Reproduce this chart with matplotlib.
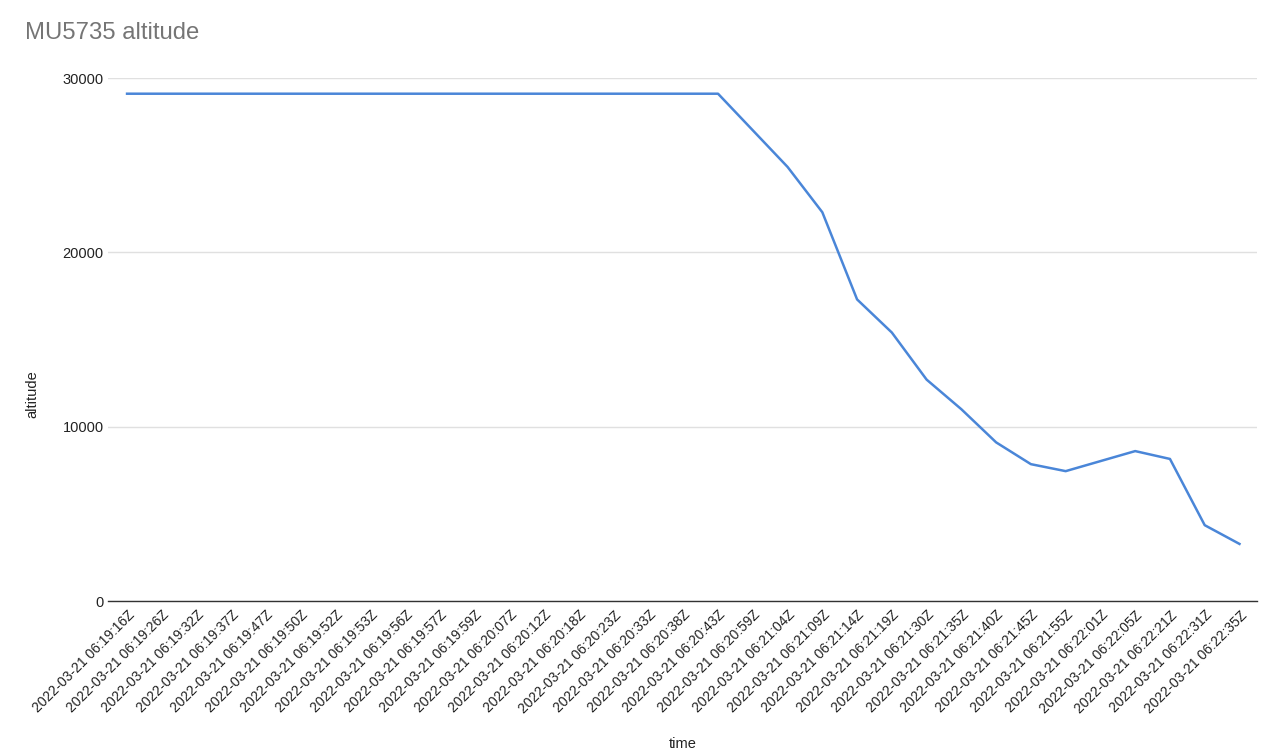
import matplotlib
matplotlib.use("Agg")
import matplotlib.pyplot as plt

plt.rcParams["font.family"] = ["Liberation Sans", "DejaVu Sans"]

times = [
    "06:19:16", "06:19:26", "06:19:32", "06:19:37", "06:19:47", "06:19:50",
    "06:19:52", "06:19:53", "06:19:56", "06:19:57", "06:19:59", "06:20:07",
    "06:20:12", "06:20:18", "06:20:23", "06:20:33", "06:20:38", "06:20:43",
    "06:20:59", "06:21:04", "06:21:09", "06:21:14", "06:21:19", "06:21:30",
    "06:21:35", "06:21:40", "06:21:45", "06:21:55", "06:22:01", "06:22:05",
    "06:22:21", "06:22:31", "06:22:35",
]
labels = [f"2022-03-21 {t}Z" for t in times]
altitude = [29100] * 18 + [
    27000, 24900, 22300, 17300, 15400, 12700, 11000, 9100, 7850, 7450,
    8025, 8600, 8150, 4350, 3275,
]

fig = plt.figure(figsize=(12.67, 7.56), dpi=100)
ax = fig.add_axes([0.0852, 0.205, 0.9068, 0.6918])

x = list(range(len(labels)))
ax.plot(x, altitude, color="#4a86d8", linewidth=1.8, solid_joinstyle="round")

ax.set_xlim(-0.55, len(labels) - 0.5)
ax.set_ylim(0, 30000)
ax.set_yticks([0, 10000, 20000, 30000])
ax.set_yticklabels(["0", "10000", "20000", "30000"])
ax.set_xticks(x)
ax.set_xticklabels(labels, rotation=45, ha="right", rotation_mode="anchor")

ax.grid(True, axis="y", color="#e0e0e0", linewidth=1.0)
ax.set_axisbelow(True)
for s in ["top", "right", "left"]:
    ax.spines[s].set_visible(False)
ax.spines["bottom"].set_color("#333333")
ax.spines["bottom"].set_linewidth(1.0)
ax.tick_params(axis="both", length=0, colors="#222222")
ax.tick_params(axis="x", pad=5, labelsize=10)
ax.tick_params(axis="y", pad=3, labelsize=10.5)

ax.set_xlabel("time", fontsize=10.5, color="#222222")
ax.xaxis.set_label_coords(0.5, -0.26)
ax.set_ylabel("altitude", fontsize=10.5, color="#222222")
ax.yaxis.set_label_coords(-0.060, 0.395)
fig.text(0.02, 0.957, "MU5735 altitude", fontsize=17.2, color="#757575", ha="left", va="center")

fig.savefig("out.png", dpi=100)
